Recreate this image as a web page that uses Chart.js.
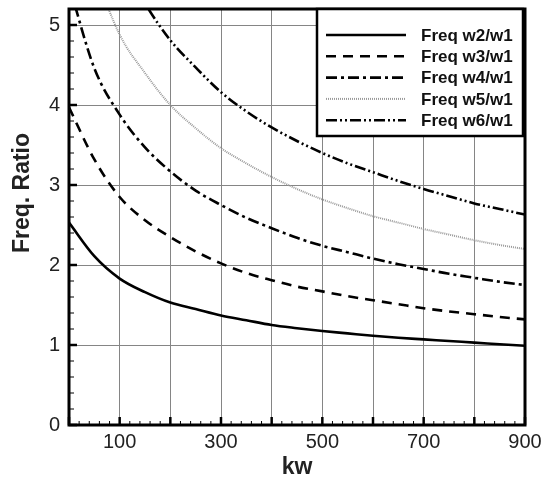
<html>
  <head>
    <script src="https://cdn.jsdelivr.net/npm/chart.js@4.4.1/dist/chart.umd.min.js"></script>
    <style>
      body { margin: 0; background: #fff; }
      #wrap { width: 548px; height: 481px; }
    </style>
  </head>
  <body>
    <div id="wrap"><canvas id="myChart" width="548" height="481"></canvas></div>
    <script>
      // values, every 50 kw
      const kw = [0, 50, 100, 150, 200, 250, 300, 350, 400, 450, 500, 550, 600, 650, 700, 750, 800, 850, 900];
      const ratioW2 = [2.53, 2.11, 1.83, 1.66, 1.53, 1.45, 1.37, 1.31, 1.25, 1.21, 1.175, 1.145, 1.115, 1.09, 1.07, 1.05, 1.03, 1.01, 0.99];
      const ratioW3 = [3.97, 3.32, 2.85, 2.56, 2.35, 2.17, 2.02, 1.90, 1.81, 1.73, 1.67, 1.61, 1.56, 1.51, 1.46, 1.42, 1.385, 1.35, 1.32];
      const ratioW4 = [5.50, 4.46, 3.88, 3.47, 3.17, 2.93, 2.75, 2.59, 2.46, 2.34, 2.24, 2.16, 2.08, 2.01, 1.95, 1.89, 1.84, 1.79, 1.75];
      const ratioW5 = [6.80, 5.70, 4.88, 4.40, 4.00, 3.71, 3.46, 3.27, 3.10, 2.95, 2.82, 2.71, 2.61, 2.53, 2.45, 2.38, 2.31, 2.25, 2.20];
      const ratioW6 = [8.00, 6.60, 5.85, 5.27, 4.81, 4.47, 4.16, 3.92, 3.72, 3.55, 3.40, 3.27, 3.16, 3.05, 2.95, 2.86, 2.77, 2.70, 2.63];
      const seriesLabels = ["Freq w2/w1", "Freq w3/w1", "Freq w4/w1", "Freq w5/w1", "Freq w6/w1"];
      const xTickLabels = [100, 300, 500, 700, 900];
      const yTickLabels = [0, 1, 2, 3, 4, 5];
      const yTitle = "Freq. Ratio";

      const allSeries = [ratioW2, ratioW3, ratioW4, ratioW5, ratioW6];
      const styles = [
        { color: "#000", width: 2.6, dash: [] },
        { color: "#000", width: 2.6, dash: [10, 7] },
        { color: "#000", width: 2.6, dash: [11, 4, 3, 4] },
        { color: "#999", width: 2, dash: [1, 1] },
        { color: "#000", width: 2.6, dash: [11, 3, 2, 3, 2, 3] }
      ];

      const datasets = allSeries.map((vals, i) => ({
        label: seriesLabels[i],
        data: vals.map((v, j) => ({ x: kw[j], y: v })),
        borderColor: styles[i].color,
        borderWidth: styles[i].width,
        borderDash: styles[i].dash,
        pointRadius: 0,
        fill: false,
        cubicInterpolationMode: "monotone"
      }));

      const FONT = "'Liberation Sans', Arial, sans-serif";

      // frame, inward ticks, y title and the boxed legend
      const framePlugin = {
        id: "frame",
        afterDatasetsDraw(chart) {
          const ctx = chart.ctx;
          const a = chart.chartArea;
          const xs = chart.scales.x, ys = chart.scales.y;
          ctx.save();
          ctx.strokeStyle = "#000";
          for (let v = 0; v <= 900; v += 20) {
            const px = xs.getPixelForValue(v);
            const major = v % 100 === 0;
            ctx.lineWidth = major ? 2.5 : 1;
            ctx.beginPath();
            ctx.moveTo(px, a.bottom);
            ctx.lineTo(px, a.bottom - (major ? 8 : 4));
            ctx.stroke();
          }
          for (let i = 0; i <= 26; i++) {
            const py = ys.getPixelForValue(i * 0.2);
            const major = i % 5 === 0;
            ctx.lineWidth = major ? 2.5 : 1;
            ctx.beginPath();
            ctx.moveTo(a.left, py);
            ctx.lineTo(a.left + (major ? 8 : 5), py);
            ctx.stroke();
          }
          ctx.lineWidth = 3;
          ctx.strokeRect(a.left, a.top, a.right - a.left, a.bottom - a.top);

          // y axis title (sits a bit above the plot middle, like the original)
          ctx.save();
          ctx.translate(23, ys.getPixelForValue(2.9));
          ctx.rotate(-Math.PI / 2);
          ctx.font = "bold 23px " + FONT;
          ctx.fillStyle = "#222";
          ctx.textAlign = "center";
          ctx.textBaseline = "middle";
          ctx.fillText(yTitle, 0, 0);
          ctx.restore();

          // legend box
          const lx = a.right - 208, ly = a.top, lw = 206, lh = 127;
          ctx.fillStyle = "#fff";
          ctx.fillRect(lx, ly, lw, lh);
          ctx.lineWidth = 2.5;
          ctx.strokeRect(lx, ly, lw, lh);
          ctx.font = "bold 17px " + FONT;
          ctx.textBaseline = "middle";
          ctx.textAlign = "left";
          chart.data.datasets.forEach((ds, i) => {
            const y = ly + 26 + i * 21.3;
            ctx.strokeStyle = ds.borderColor;
            ctx.lineWidth = ds.borderWidth;
            ctx.setLineDash(ds.borderDash);
            ctx.beginPath();
            ctx.moveTo(lx + 9, y);
            ctx.lineTo(lx + 89, y);
            ctx.stroke();
            ctx.setLineDash([]);
            ctx.fillStyle = "#111";
            ctx.fillText(ds.label, lx + 104, y + 1);
          });
          ctx.restore();
        }
      };

      const ctx = document.getElementById("myChart").getContext("2d");
      const myChart = new Chart(ctx, {
        type: "line",
        data: { datasets: datasets },
        options: {
          responsive: false,
          animation: false,
          layout: { padding: { left: 0, right: 23, top: 9, bottom: 0 } },
          plugins: {
            legend: { display: false },
            tooltip: { enabled: false }
          },
          scales: {
            x: {
              type: "linear",
              min: 0,
              max: 900,
              border: { display: false },
              grid: { color: "#858585", lineWidth: 1, drawTicks: false },
              ticks: {
                stepSize: 100,
                padding: 5,
                color: "#222",
                maxRotation: 0,
                autoSkip: false,
                font: { family: FONT, size: 20 },
                callback: v => (xTickLabels.includes(v) ? String(v) : "")
              },
              title: {
                display: true,
                text: "kw",
                color: "#222",
                padding: { top: -3, bottom: 0 },
                font: { family: FONT, size: 23, weight: "bold" }
              },
              afterFit: s => { s.height = 56; s.paddingLeft = 0; s.paddingRight = 0; }
            },
            y: {
              type: "linear",
              min: 0,
              max: 5.2,
              border: { display: false },
              grid: { color: "#858585", lineWidth: 1, drawTicks: false },
              afterBuildTicks: s => { s.ticks = s.ticks.filter(t => yTickLabels.includes(t.value)); },
              ticks: {
                stepSize: 1,
                includeBounds: false,
                padding: 9,
                color: "#222",
                font: { family: FONT, size: 20 }
              },
              afterFit: s => { s.width = 69; s.paddingTop = 0; s.paddingBottom = 0; }
            }
          }
        },
        plugins: [framePlugin]
      });
    </script>
  </body>
</html>
